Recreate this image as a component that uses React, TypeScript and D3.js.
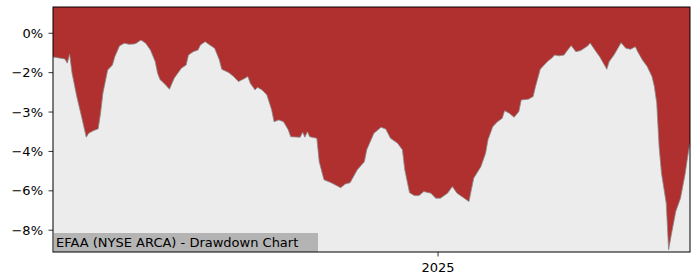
import React from "react";
import * as d3 from "d3";

const dates: string[] = [
  "2024-07-23","2024-07-28","2024-07-29","2024-07-30","2024-07-31","2024-08-02","2024-08-04","2024-08-06","2024-08-07","2024-08-09",
  "2024-08-11","2024-08-12","2024-08-13","2024-08-15","2024-08-17","2024-08-18","2024-08-20","2024-08-22","2024-08-24","2024-08-26",
  "2024-08-27","2024-08-29","2024-08-31","2024-09-02","2024-09-04","2024-09-05","2024-09-06","2024-09-08","2024-09-10","2024-09-12",
  "2024-09-15","2024-09-17","2024-09-18","2024-09-20","2024-09-22","2024-09-23","2024-09-25","2024-09-27","2024-09-29","2024-10-01",
  "2024-10-02","2024-10-05","2024-10-07","2024-10-09","2024-10-11","2024-10-13","2024-10-14","2024-10-16","2024-10-17","2024-10-19",
  "2024-10-21","2024-10-23","2024-10-24","2024-10-26","2024-10-28","2024-10-30","2024-10-31","2024-11-04","2024-11-05","2024-11-06",
  "2024-11-07","2024-11-08","2024-11-11","2024-11-12","2024-11-14","2024-11-17","2024-11-21","2024-11-23","2024-11-25","2024-11-28",
  "2024-12-01","2024-12-02","2024-12-05","2024-12-08","2024-12-10","2024-12-12","2024-12-15","2024-12-17","2024-12-18","2024-12-20",
  "2024-12-22","2024-12-24","2024-12-26","2024-12-29","2024-12-31","2025-01-02","2025-01-05","2025-01-07","2025-01-09","2025-01-12",
  "2025-01-14","2025-01-16","2025-01-19","2025-01-21","2025-01-22","2025-01-24","2025-01-26","2025-01-28","2025-01-29","2025-01-31",
  "2025-02-02","2025-02-04","2025-02-05","2025-02-08","2025-02-10","2025-02-11","2025-02-13","2025-02-16","2025-02-18","2025-02-19",
  "2025-02-21","2025-02-23","2025-02-24","2025-02-26","2025-02-28","2025-03-02","2025-03-05","2025-03-06","2025-03-08","2025-03-10",
  "2025-03-12","2025-03-13","2025-03-14","2025-03-16","2025-03-19","2025-03-21","2025-03-23","2025-03-25","2025-03-26","2025-03-28",
  "2025-03-30","2025-04-01","2025-04-02","2025-04-03","2025-04-04","2025-04-05","2025-04-07","2025-04-08","2025-04-09","2025-04-11",
  "2025-04-13","2025-04-15","2025-04-16","2025-04-17"
];

const drawdown: number[] = [
  -0.90,-0.98,-1.14,-0.80,-1.51,-2.41,-3.17,-3.96,-3.81,-3.71,
  -3.64,-3.05,-2.28,-1.40,-1.21,-0.89,-0.48,-0.38,-0.42,-0.41,
  -0.38,-0.26,-0.38,-0.64,-1.08,-1.52,-1.76,-1.93,-2.13,-1.71,
  -1.33,-1.21,-0.83,-0.70,-0.64,-0.45,-0.32,-0.45,-0.57,-1.02,
  -1.37,-1.50,-1.65,-1.84,-1.75,-1.65,-1.90,-2.16,-2.06,-2.16,
  -2.35,-2.92,-3.37,-3.30,-3.37,-3.68,-3.94,-3.96,-3.77,-3.96,
  -3.75,-3.94,-4.00,-4.89,-5.58,-5.69,-5.88,-5.74,-5.69,-5.20,
  -4.89,-4.44,-3.81,-3.58,-3.65,-4.00,-4.19,-4.44,-5.20,-6.07,
  -6.18,-6.18,-6.03,-6.09,-6.28,-6.28,-6.09,-5.84,-6.09,-6.28,
  -6.41,-5.52,-5.08,-4.57,-4.06,-3.56,-3.37,-3.24,-2.95,-3.05,
  -3.20,-2.98,-2.54,-2.51,-2.41,-2.03,-1.37,-1.08,-0.93,-0.83,
  -0.86,-0.83,-0.70,-0.47,-0.70,-0.66,-0.48,-0.37,-0.64,-0.89,
  -1.21,-1.37,-1.08,-0.83,-0.36,-0.57,-0.61,-0.51,-0.70,-1.02,
  -1.27,-1.65,-2.03,-2.66,-4.32,-5.33,-6.47,-8.25,-7.74,-6.79,
  -6.28,-5.33,-4.71,-4.18
];

const yTickValues: number[] = [0, -1.5, -3, -4.5, -6, -7.5];
const yTickLabels: string[] = ["0%", "\u22122%", "\u22123%", "\u22124%", "\u22126%", "\u22128%"];
const xTickDates: string[] = ["2025-01-01"];
const xTickLabels: string[] = ["2025"];
const title = "EFAA (NYSE ARCA) - Drawdown Chart";

const W = 700, H = 280;
const M = { left: 53, right: 690, top: 7, bottom: 252 };
const FONT = "DejaVu Sans, sans-serif";

export default function App() {
  const parse = d3.utcParse("%Y-%m-%d");
  const data = dates.map((d, i) => ({ t: parse(d) as Date, v: drawdown[i] }));
  const x = d3.scaleUtc()
    .domain(d3.extent(data, (d) => d.t) as [Date, Date])
    .range([M.left, M.right]);
  const y = d3.scaleLinear().domain([-8.33, 1.0]).range([M.bottom, M.top]);

  const area = d3.area<{ t: Date; v: number }>()
    .x((d) => x(d.t))
    .y0(M.top)
    .y1((d) => y(d.v));
  const line = d3.line<{ t: Date; v: number }>()
    .x((d) => x(d.t))
    .y((d) => y(d.v));

  return (
    <svg width={W} height={H} style={{ position: "absolute", left: 0, top: 0 }}>
      <rect x={0} y={0} width={W} height={H} fill="#ffffff" />
      <rect x={M.left} y={M.top} width={M.right - M.left} height={M.bottom - M.top} fill="#ececec" />
      <path d={area(data) || ""} fill="#b03030" />
      <path d={line(data) || ""} fill="none" stroke="#8a8a8a" strokeWidth={0.8} />
      {/* label */}
      <rect x={M.left + 1} y={233} width={264} height={M.bottom - 233} fill="#b4b4b4" />
      <text x={56} y={247} fontFamily={FONT} fontSize={13} fill="#000">{title}</text>
      {/* spines */}
      <rect x={M.left} y={M.top} width={M.right - M.left} height={M.bottom - M.top} fill="none" stroke="#000" strokeWidth={1} />
      {/* y ticks */}
      {yTickValues.map((v, i) => (
        <g key={i}>
          <line x1={M.left - 4.5} x2={M.left} y1={y(v)} y2={y(v)} stroke="#000" strokeWidth={0.8} />
          <text x={M.left - 10} y={y(v)} dy="0.35em" textAnchor="end" fontFamily={FONT} fontSize={13} fill="#000">
            {yTickLabels[i]}
          </text>
        </g>
      ))}
      {/* x ticks */}
      {xTickDates.map((d, i) => {
        const xp = x(parse(d) as Date);
        return (
          <g key={i}>
            <line x1={xp} x2={xp} y1={M.bottom} y2={M.bottom + 4.5} stroke="#000" strokeWidth={0.8} />
            <text x={xp} y={M.bottom + 20} textAnchor="middle" fontFamily={FONT} fontSize={13} fill="#000">
              {xTickLabels[i]}
            </text>
          </g>
        );
      })}
    </svg>
  );
}
